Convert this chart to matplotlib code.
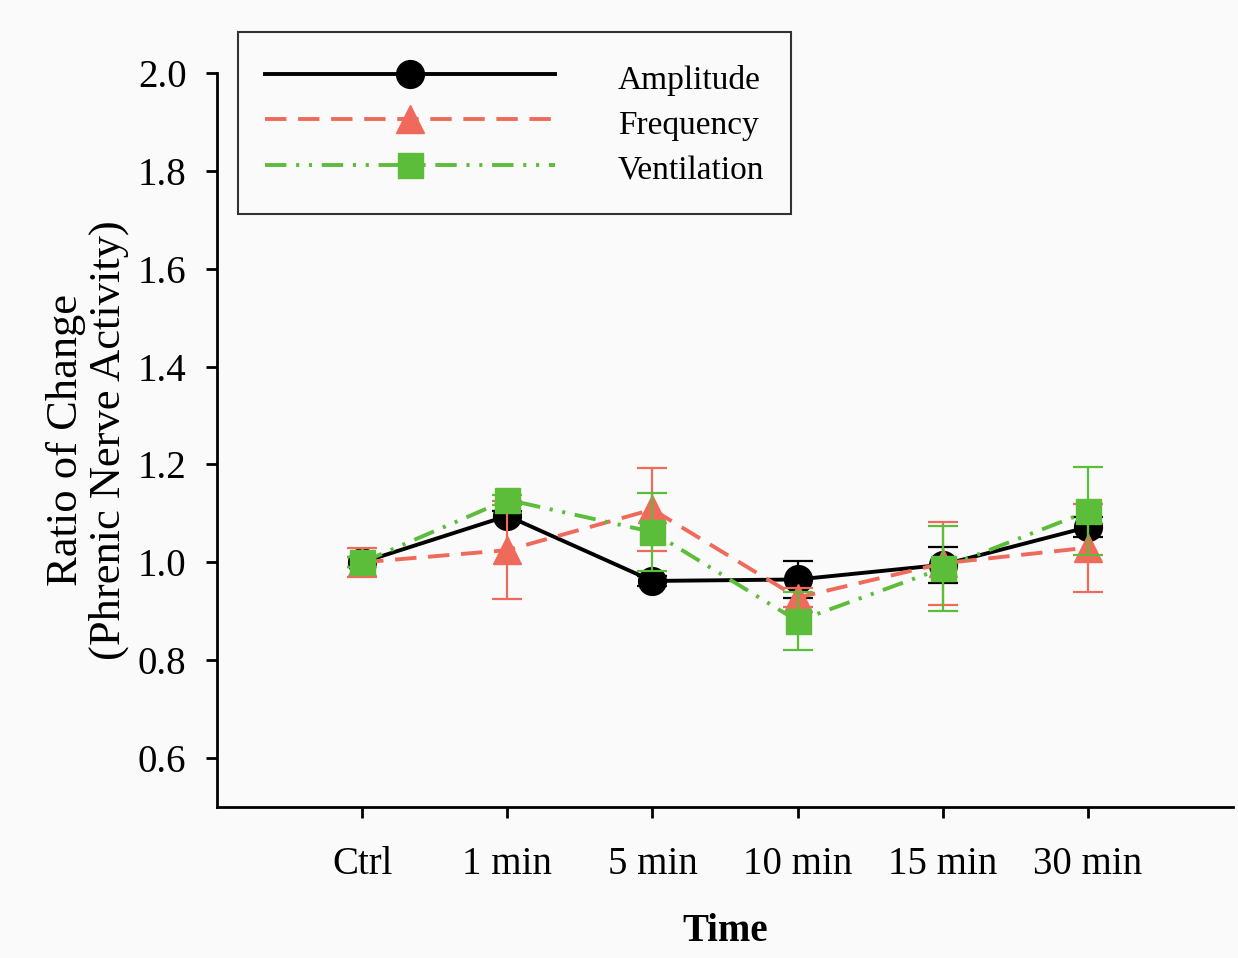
import matplotlib.pyplot as plt

# Ratio of change in phrenic nerve activity over time
time_labels = ['Ctrl', '1 min', '5 min', '10 min', '15 min', '30 min']

amplitude = [1.0, 1.095, 0.962, 0.965, 0.995, 1.072]
amplitude_err = [0.01, 0.01, 0.01, 0.037, 0.037, 0.02]

frequency = [1.0, 1.025, 1.108, 0.928, 0.998, 1.03]
frequency_err = [0.03, 0.10, 0.085, 0.02, 0.085, 0.09]

ventilation = [1.0, 1.128, 1.062, 0.88, 0.988, 1.104]
ventilation_err = [0.01, 0.01, 0.08, 0.06, 0.087, 0.09]

red = '#EF6A5A'
green = '#5BBD3A'

plt.rcParams['font.family'] = ['Liberation Serif', 'DejaVu Serif']

fig = plt.figure(figsize=(12.38, 9.58), dpi=100)
fig.patch.set_facecolor('#fafafa')
ax = fig.add_axes([0.1753, 0.1576, 0.8207, 0.7662])
ax.set_facecolor('#fafafa')

x = list(range(len(time_labels)))

amp = ax.errorbar(x, amplitude, yerr=amplitude_err, color='black', lw=2.8,
                  marker='o', markersize=20, capsize=11, elinewidth=1.6,
                  capthick=1.6, label='Amplitude', zorder=3)
freq = ax.errorbar(x, frequency, yerr=frequency_err, color=red, lw=2.8,
                   dashes=(5.5, 3), marker='^', markersize=20, capsize=11,
                   elinewidth=1.6, capthick=1.6, label='Frequency', zorder=4)
vent = ax.errorbar(x, ventilation, yerr=ventilation_err, color=green, lw=2.8,
                   dashes=(5.5, 2.5, 0.8, 2.5, 0.8, 2.5), marker='s',
                   markersize=18, capsize=11, elinewidth=1.6, capthick=1.6,
                   label='Ventilation', zorder=5)

ax.set_xlim(-1, 6)
ax.set_ylim(0.5, 2.0)
ax.set_xticks(x)
ax.set_xticklabels(time_labels)
ax.set_yticks([0.6, 0.8, 1.0, 1.2, 1.4, 1.6, 1.8, 2.0])
ax.set_yticklabels(['0.6', '0.8', '1.0', '1.2', '1.4', '1.6', '1.8', '2.0'])

for side in ['top', 'right']:
    ax.spines[side].set_visible(False)
for side in ['left', 'bottom']:
    ax.spines[side].set_linewidth(2)
ax.tick_params(axis='both', direction='out', length=8, width=2,
               labelsize=28, pad=20)
ax.tick_params(axis='y', pad=14)

ax.set_xlabel('Time', fontsize=28, fontweight='bold', labelpad=22)
ax.set_ylabel('Ratio of Change\n(Phrenic Nerve Activity)', fontsize=32,
              labelpad=6, linespacing=1.1)

# legend shows only the data lines, not the error bars
handles = [amp[0], freq[0], vent[0]]
labels = ['Amplitude', 'Frequency', 'Ventilation']
leg = fig.legend(handles, labels, loc='upper left',
                 bbox_to_anchor=(238 / 1238, 1 - 32 / 958),
                 fontsize=24, handlelength=8.7, handletextpad=1.9,
                 handleheight=1.35, numpoints=1, frameon=True,
                 fancybox=False, borderpad=0.8, labelspacing=0.25,
                 borderaxespad=0)
leg.get_frame().set_edgecolor('black')
leg.get_frame().set_linewidth(1.5)
leg.get_frame().set_facecolor('#fafafa')

fig.savefig('out.png', dpi=100, facecolor=fig.get_facecolor())
